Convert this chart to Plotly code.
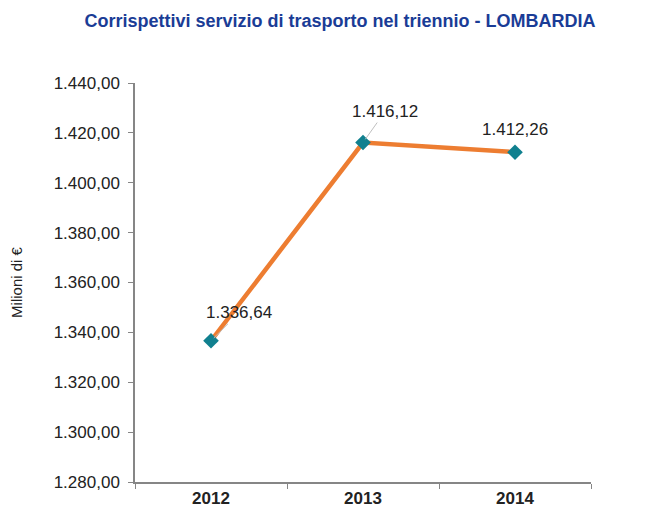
import plotly.graph_objects as go

# dati
anni = ["2012", "2013", "2014"]
corrispettivi = [1336.64, 1416.12, 1412.26]
# offset etichette (pixel) rispetto al punto
label_dx = [28, 22, 0]
label_dy = [-28, -31, -23]


def it_fmt(v):
    s = f"{v:,.2f}"
    return s.replace(",", "X").replace(".", ",").replace("X", ".")


fig = go.Figure()
fig.add_trace(go.Scatter(
    x=anni, y=corrispettivi, mode="lines+markers",
    line=dict(color="#ED7D31", width=4.5),
    marker=dict(symbol="diamond", size=12, color="#10808F"),
    hoverinfo="skip", showlegend=False,
))

# sugli assi categorici l'annotazione vuole l'indice della categoria
for i, (y, dx, dy) in enumerate(zip(corrispettivi, label_dx, label_dy)):
    if dx == 0:
        fig.add_annotation(x=i, y=y, text=it_fmt(y), showarrow=False,
                           yshift=-dy, font=dict(size=17, color="#222222"))
    else:
        fig.add_annotation(x=i, y=y, text=it_fmt(y), showarrow=True,
                           ax=dx, ay=dy, arrowhead=0, arrowwidth=1,
                           arrowcolor="#BFBFBF", standoff=4,
                           font=dict(size=17, color="#222222"))

# la pagina aggiunge 8px di margine al body
fig.update_layout(
    width=664, height=510,
    margin=dict(l=127, r=81, t=75, b=36),
    paper_bgcolor="white", plot_bgcolor="white",
    font=dict(family="Arial, Liberation Sans, sans-serif", color="#222222"),
    separators=",.",
    title=dict(text="<b>Corrispettivi servizio di trasporto nel triennio - LOMBARDIA</b>",
               x=0.5, xanchor="center", y=0.976, yanchor="middle",
               font=dict(size=18, color="#1A3C96")),
)
fig.update_xaxes(
    type="category", range=[-0.5, 2.5], showgrid=False, automargin=False,
    showline=True, linecolor="#868686", linewidth=1.5,
    ticks="outside", ticklen=5, tickcolor="#868686", tickson="boundaries",
    tickfont=dict(size=17, color="#222222"),
    ticktext=[f"<b>{a}</b>" for a in anni], tickvals=anni,
)
fig.update_yaxes(
    range=[1280, 1440], dtick=20, tickformat=",.2f", showgrid=False,
    automargin=False,
    showline=True, linecolor="#868686", linewidth=1.5,
    ticks="outside", ticklen=5, tickcolor="#868686", ticklabelstandoff=5,
    tickfont=dict(size=17, color="#222222"), zeroline=False,
    title=dict(text="Milioni di €", font=dict(size=15, color="#222222"), standoff=35),
)

fig.write_html("out.html")
